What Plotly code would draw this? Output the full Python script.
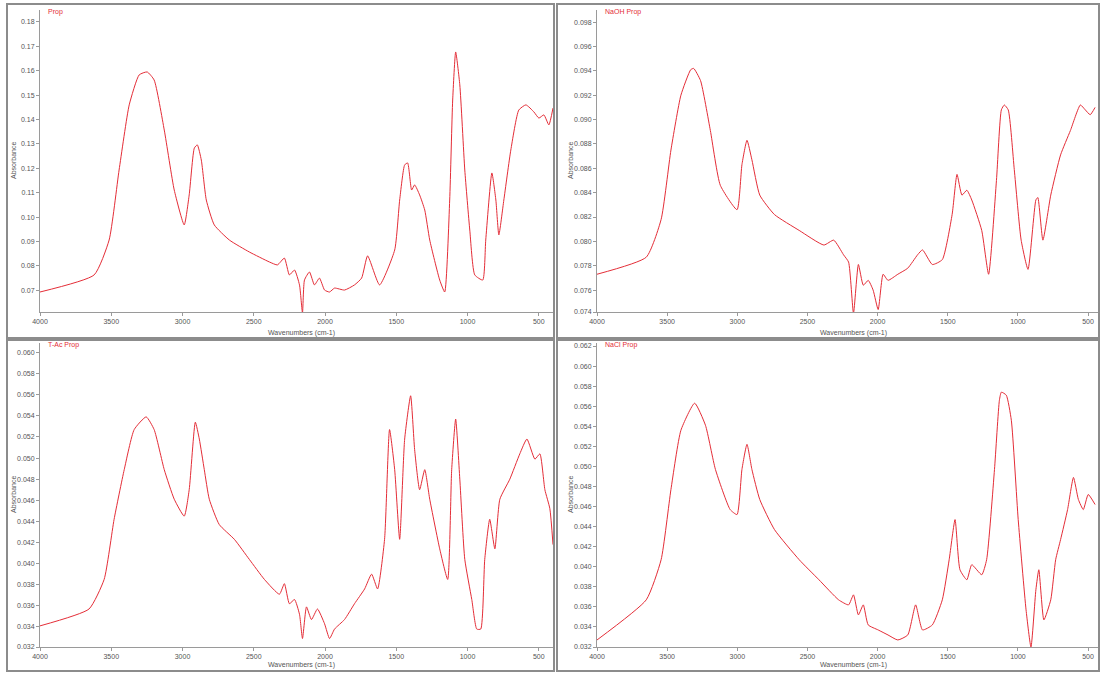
import plotly.graph_objects as go

# ---------------- data (wavenumber cm-1, absorbance) ----------------
wn_prop = [4000, 3620, 3515, 3445, 3374, 3304, 3248, 3199, 3128, 3058, 2988, 2953, 2917, 2896, 2868,
           2833, 2777, 2671, 2531, 2390, 2334, 2285, 2250, 2214, 2179, 2158, 2144, 2109, 2074, 2039,
           2003, 1968, 1933, 1863, 1793, 1743, 1701, 1617, 1511, 1476, 1441, 1420, 1392, 1371, 1336,
           1300, 1265, 1195, 1160, 1125, 1104, 1083, 1054, 1019, 984, 949, 893, 872, 829, 801, 780,
           745, 696, 640, 590, 534, 499, 464, 429, 400]
abs_prop = [0.0693, 0.0763, 0.0906, 0.1193, 0.1460, 0.1583, 0.1595, 0.1562, 0.1357, 0.1111, 0.0968,
            0.1091, 0.1283, 0.1296, 0.1234, 0.1070, 0.0968, 0.0906, 0.0857, 0.0816, 0.0804, 0.0832,
            0.0763, 0.0783, 0.0722, 0.0607, 0.0742, 0.0775, 0.0722, 0.0750, 0.0701, 0.0693, 0.0709,
            0.0701, 0.0722, 0.0750, 0.0841, 0.0722, 0.0865, 0.1070, 0.1214, 0.1222, 0.1111, 0.1132,
            0.1091, 0.1029, 0.0906, 0.0742, 0.0693, 0.1070, 0.1480, 0.1677, 0.1542, 0.1193, 0.0947,
            0.0763, 0.0742, 0.0906, 0.1181, 0.1070, 0.0927, 0.1070, 0.1275, 0.1439, 0.1460, 0.1431,
            0.1406, 0.1419, 0.1378, 0.1447]

wn_naoh = [4000, 3649, 3543, 3473, 3402, 3332, 3311, 3262, 3192, 3121, 3002, 2967, 2931, 2896, 2840,
           2735, 2559, 2383, 2313, 2243, 2207, 2172, 2137, 2102, 2067, 2032, 1996, 1961, 1926, 1856,
           1785, 1715, 1680, 1610, 1539, 1469, 1434, 1399, 1364, 1329, 1258, 1209, 1153, 1118, 1097,
           1069, 1026, 977, 928, 872, 858, 822, 766, 696, 626, 555, 520, 485, 450]
abs_naoh = [0.0773, 0.0787, 0.0818, 0.0875, 0.0920, 0.0941, 0.0942, 0.0932, 0.0891, 0.0846, 0.0826,
            0.0863, 0.0883, 0.0867, 0.0838, 0.0822, 0.0809, 0.0797, 0.0801, 0.0789, 0.0783, 0.0741,
            0.0781, 0.0764, 0.0768, 0.0760, 0.0744, 0.0773, 0.0768, 0.0773, 0.0778, 0.0789, 0.0793,
            0.0781, 0.0785, 0.0822, 0.0855, 0.0838, 0.0842, 0.0834, 0.0809, 0.0773, 0.0850, 0.0908,
            0.0912, 0.0908, 0.0859, 0.0801, 0.0777, 0.0834, 0.0836, 0.0801, 0.0838, 0.0871, 0.0891,
            0.0912, 0.0908, 0.0904, 0.0910]

wn_tac = [4000, 3656, 3550, 3480, 3409, 3339, 3255, 3199, 3128, 3058, 2988, 2953, 2910, 2882, 2847,
          2812, 2742, 2636, 2531, 2425, 2320, 2285, 2250, 2214, 2179, 2158, 2130, 2095, 2053, 2003,
          1968, 1933, 1863, 1793, 1722, 1673, 1631, 1582, 1547, 1511, 1476, 1441, 1399, 1371, 1336,
          1300, 1265, 1195, 1139, 1111, 1083, 1054, 1019, 970, 935, 907, 879, 844, 808, 773, 703,
          633, 583, 527, 492, 457, 422, 400]
abs_tac = [0.0341, 0.0357, 0.0385, 0.0442, 0.0489, 0.0527, 0.0539, 0.0527, 0.0489, 0.0461, 0.0445,
           0.0470, 0.0534, 0.0518, 0.0489, 0.0461, 0.0437, 0.0423, 0.0404, 0.0385, 0.0371, 0.0381,
           0.0362, 0.0366, 0.0352, 0.0329, 0.0359, 0.0347, 0.0357, 0.0343, 0.0329, 0.0338, 0.0347,
           0.0362, 0.0376, 0.0390, 0.0376, 0.0423, 0.0527, 0.0489, 0.0423, 0.0518, 0.0559, 0.0508,
           0.0470, 0.0489, 0.0461, 0.0414, 0.0385, 0.0489, 0.0537, 0.0480, 0.0404, 0.0366, 0.0338,
           0.0338, 0.0404, 0.0442, 0.0414, 0.0461, 0.0480, 0.0504, 0.0518, 0.0499, 0.0504, 0.0470,
           0.0452, 0.0418]

wn_nacl = [4000, 3649, 3543, 3473, 3402, 3304, 3227, 3156, 3051, 3002, 2967, 2931, 2896, 2840, 2735,
           2559, 2418, 2278, 2207, 2172, 2137, 2102, 2067, 1996, 1926, 1856, 1785, 1729, 1680, 1610,
           1539, 1490, 1448, 1413, 1364, 1329, 1258, 1223, 1167, 1132, 1118, 1083, 1047, 998, 942,
           907, 872, 851, 815, 766, 731, 696, 646, 604, 569, 534, 499, 450]
abs_nacl = [0.0327, 0.0367, 0.0407, 0.0477, 0.0536, 0.0563, 0.0541, 0.0497, 0.0457, 0.0452, 0.0497,
            0.0522, 0.0497, 0.0467, 0.0437, 0.0407, 0.0387, 0.0367, 0.0362, 0.0372, 0.0352, 0.0362,
            0.0342, 0.0337, 0.0332, 0.0327, 0.0332, 0.0362, 0.0337, 0.0342, 0.0367, 0.0407, 0.0447,
            0.0397, 0.0387, 0.0402, 0.0392, 0.0407, 0.0497, 0.0566, 0.0574, 0.0571, 0.0546, 0.0447,
            0.0357, 0.0320, 0.0377, 0.0397, 0.0347, 0.0367, 0.0407, 0.0427, 0.0457, 0.0489, 0.0467,
            0.0457, 0.0472, 0.0462]

titles = ["Prop", "NaOH Prop", "T-Ac Prop", "NaCl Prop"]
x_ticks = [4000, 3500, 3000, 2500, 2000, 1500, 1000, 500]
y_ticks_prop = [0.18, 0.17, 0.16, 0.15, 0.14, 0.13, 0.12, 0.11, 0.10, 0.09, 0.08, 0.07, 0.061]
y_ticks_naoh = [0.098, 0.096, 0.094, 0.092, 0.090, 0.088, 0.086, 0.084, 0.082, 0.080, 0.078, 0.076, 0.0742]
y_ticks_tac = [0.060, 0.058, 0.056, 0.054, 0.052, 0.050, 0.048, 0.046, 0.044, 0.042, 0.040,
               0.038, 0.036, 0.034, 0.0321]
y_ticks_nacl = [0.062, 0.060, 0.058, 0.056, 0.054, 0.052, 0.050, 0.048, 0.046, 0.044, 0.042,
                0.040, 0.038, 0.036, 0.034, 0.032]
y_ranges = [[0.0611, 0.1849], [0.0742, 0.0990], [0.0321, 0.0609], [0.0320, 0.0623]]
x_ranges = [[4000, 400], [4000, 415], [4000, 400], [4000, 415]]
y_label_fmt = ["{:.2f}", "{:.3f}", "{:.3f}", "{:.3f}"]

series = [(wn_prop, abs_prop, y_ticks_prop), (wn_naoh, abs_naoh, y_ticks_naoh),
          (wn_tac, abs_tac, y_ticks_tac), (wn_nacl, abs_nacl, y_ticks_nacl)]

# ---------------- layout (pixel geometry) ----------------
W, H = 1100, 673
plot_px = [(40, 553, 10, 312), (597, 1100, 10, 312), (40, 553, 343, 647), (597, 1100, 343, 647)]
panel_px = [(7, 554, 4, 338), (557, 1099, 4, 338), (7, 554, 340, 671), (557, 1099, 340, 671)]
xtitle_off = [21, 21, 18, 18]

LINE = "rgb(228,45,55)"
GRAY_TXT = "#555555"
AX = "#9a9a9a"
FONT = "Liberation Sans, Arial, sans-serif"

fig = go.Figure()
layout = dict(width=W, height=H, margin=dict(l=0, r=0, t=0, b=0),
              paper_bgcolor="white", plot_bgcolor="white", showlegend=False,
              font=dict(family=FONT, size=7, color=GRAY_TXT))
shapes, annotations = [], []

for i, ((wn, ab, yt), (x0, x1, y0, y1)) in enumerate(zip(series, plot_px)):
    n = "" if i == 0 else str(i + 1)
    fig.add_trace(go.Scatter(x=wn, y=ab, mode="lines",
                             line=dict(color=LINE, width=1, shape="spline", smoothing=0.5),
                             xaxis="x" + n, yaxis="y" + n, hoverinfo="skip"))
    layout["xaxis" + n] = dict(domain=[x0 / W, x1 / W], anchor="y" + n, range=x_ranges[i],
                               tickvals=x_ticks, ticktext=[str(v) for v in x_ticks],
                               showline=True, linecolor=AX, linewidth=1, ticks="outside",
                               ticklen=3, tickcolor=AX, showgrid=False, zeroline=False,
                               automargin=False, tickfont=dict(size=7, color=GRAY_TXT))
    layout["yaxis" + n] = dict(domain=[1 - y1 / H, 1 - y0 / H], anchor="x" + n, range=y_ranges[i],
                               tickvals=yt, ticktext=[y_label_fmt[i].format(v) for v in yt],
                               showline=True, linecolor=AX, linewidth=1, ticks="outside",
                               ticklen=3, tickcolor=AX, showgrid=False, zeroline=False,
                               automargin=False, tickfont=dict(size=7, color=GRAY_TXT))
    annotations.append(dict(text=titles[i], x=(x0 + 6) / W, y=1 - (y0 - 4) / H, xref="paper",
                            yref="paper", xanchor="left", yanchor="top", showarrow=False,
                            font=dict(size=7, color=LINE)))
    annotations.append(dict(text="Wavenumbers (cm-1)", x=((x0 + x1) / 2 + 5) / W,
                            y=1 - (y1 + xtitle_off[i]) / H, xref="paper", yref="paper",
                            xanchor="center", yanchor="middle", showarrow=False,
                            font=dict(size=7, color=GRAY_TXT)))
    annotations.append(dict(text="Absorbance", x=(x0 - 27) / W, y=1 - ((y0 + y1) / 2) / H,
                            xref="paper", yref="paper", xanchor="center", yanchor="middle",
                            textangle=-90, showarrow=False, font=dict(size=7, color=GRAY_TXT)))

for (a, b, c, d) in panel_px:
    shapes.append(dict(type="rect", xref="paper", yref="paper", x0=a / W, x1=b / W,
                       y0=1 - d / H, y1=1 - c / H, line=dict(color="#8c8c8c", width=2),
                       fillcolor="rgba(0,0,0,0)", layer="above"))

layout["shapes"] = shapes
layout["annotations"] = annotations
fig.update_layout(**layout)
fig.write_html("out.html", config={"displayModeBar": False},
               post_script="document.body.style.margin='0';document.body.style.padding='0';"
                           "document.documentElement.style.overflow='hidden';")
